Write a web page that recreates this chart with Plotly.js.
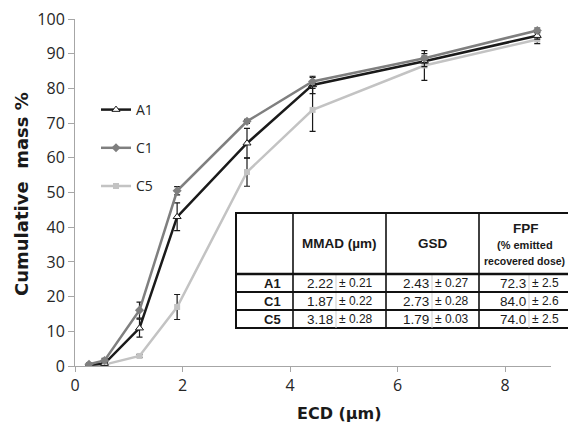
<!DOCTYPE html>
<html>
<head>
<meta charset="utf-8">
<script src="https://cdn.plot.ly/plotly-3.0.1.min.js"></script>
<style>html,body{margin:0;padding:0;background:#fff;}#chart{width:568px;height:428px;}</style>
</head>
<body>
<div id="chart"></div>
<script>
// ---- data ----
const ecd = [0.26, 0.55, 1.2, 1.9, 3.2, 4.42, 6.5, 8.6];
const a1 = [0.3, 0.7, 10.9, 43.0, 64.2, 81.0, 87.8, 95.2];
const a1Err = [0.3, 0.5, 2.6, 4.0, 4.3, 2.5, 1.5, 1.0];
const c1 = [0.5, 1.6, 16.1, 50.5, 70.5, 82.0, 88.7, 96.7];
const c1Err = [0.3, 0.6, 2.3, 1.2, 0.6, 1.2, 1.3, 0.7];
const c5 = [0.2, 0.4, 2.9, 17.0, 55.9, 73.8, 86.6, 94.1];
const c5Err = [0.2, 0.3, 0.4, 3.6, 4.1, 6.2, 4.3, 1.2];

const seriesNames = ["A1", "C1", "C5"];
const tableHeaders = ["MMAD (µm)", "GSD"];
const fpfHeader = ["FPF", "(% emitted", "recovered dose)"];
const mmad = ["2.22", "1.87", "3.18"];
const mmadSd = ["± 0.21", "± 0.22", "± 0.28"];
const gsd = ["2.43", "2.73", "1.79"];
const gsdSd = ["± 0.27", "± 0.28", "± 0.03"];
const fpf = ["72.3", "84.0", "74.0"];
const fpfSd = ["± 2.5", "± 2.6", "± 2.5"];

const xTicks = [0, 2, 4, 6, 8];
const yTicks = [0, 10, 20, 30, 40, 50, 60, 70, 80, 90, 100];

// ---- layout helpers ----
const L = 75, R = 17, T = 19, B = 62, W = 568, H = 428;
const pw = W - L - R, ph = H - T - B;
const px = v => (v - L) / pw;
const py = v => (H - B - v) / ph;

function errBar(arr) {
  return {type: 'data', array: arr, visible: true, color: '#1a1a1a', thickness: 1.2, width: 3};
}

const traces = [
  {x: ecd, y: c5, name: seriesNames[2], type: 'scatter', mode: 'lines+markers',
   line: {color: '#c3c3c3', width: 2.5}, marker: {symbol: 'square', size: 6, color: '#c3c3c3'},
   error_y: errBar(c5Err), legendrank: 3, legendgroup: 'g3'},
  {x: ecd, y: a1, name: seriesNames[0], type: 'scatter', mode: 'lines+markers',
   line: {color: '#1a1a1a', width: 2.5}, marker: {symbol: 'triangle-up', size: 7, color: '#ffffff', line: {color: '#1a1a1a', width: 1}},
   error_y: errBar(a1Err), legendrank: 1, legendgroup: 'g1'},
  {x: ecd, y: c1, name: seriesNames[1], type: 'scatter', mode: 'lines+markers',
   line: {color: '#7f7f7f', width: 2.5}, marker: {symbol: 'diamond', size: 7, color: '#7f7f7f'},
   error_y: errBar(c1Err), legendrank: 2, legendgroup: 'g2'}
];

// table geometry (pixels)
const tLeft = 236, tC1 = 293, tI1 = 336, tC2 = 386, tI2 = 432, tC3 = 479, tI3 = 529, tRight = 590;
const tTop = 213, tHead = 274, rowB = [292, 310, 328];
const rowMid = [283, 301, 319];

const shapes = [];
shapes.push({type: 'rect', xref: 'paper', yref: 'paper', x0: px(tLeft), x1: px(tRight), y0: py(rowB[2]), y1: py(tTop),
  fillcolor: '#ffffff', line: {color: '#111', width: 2}, layer: 'above'});
[tC1, tC2, tC3].forEach(xv => shapes.push({type: 'line', xref: 'paper', yref: 'paper', x0: px(xv), x1: px(xv), y0: py(rowB[2]), y1: py(tTop), line: {color: '#111', width: 1.6}}));
[tI1, tI2, tI3].forEach(xv => shapes.push({type: 'line', xref: 'paper', yref: 'paper', x0: px(xv), x1: px(xv), y0: py(rowB[2]), y1: py(tHead), line: {color: '#cfcfcf', width: 1}}));
shapes.push({type: 'line', xref: 'paper', yref: 'paper', x0: px(tLeft), x1: px(tRight), y0: py(tHead), y1: py(tHead), line: {color: '#111', width: 2.5}});
[rowB[0], rowB[1]].forEach(yv => shapes.push({type: 'line', xref: 'paper', yref: 'paper', x0: px(tLeft), x1: px(tRight), y0: py(yv), y1: py(yv), line: {color: '#111', width: 2}}));

const TF = 'Liberation Sans, Arial, sans-serif';
const ann = [];
function txt(t, x, y, size, bold, xa) {
  ann.push({text: bold ? '<b>' + t + '</b>' : t, xref: 'paper', yref: 'paper', x: px(x), y: py(y),
    xanchor: xa || 'center', yanchor: 'middle', showarrow: false, font: {family: TF, size: size, color: '#1a1a1a'}});
}
txt(tableHeaders[0], (tC1 + tC2) / 2, 243, 13.5, true);
txt(tableHeaders[1], (tC2 + tC3) / 2, 243, 13.5, true);
txt(fpfHeader[0], 526, 228, 13.5, true);
txt(fpfHeader[1], 525, 245, 11, true);
txt(fpfHeader[2], 524, 261, 10.5, true);
for (let i = 0; i < 3; i++) {
  txt(seriesNames[i], 272, rowMid[i], 13, true);
  txt(mmad[i], tI1 - 1, rowMid[i], 13.5, false, 'right');
  txt(mmadSd[i], tI1 + 1, rowMid[i], 12, false, 'left');
  txt(gsd[i], tI2 - 1, rowMid[i], 13.5, false, 'right');
  txt(gsdSd[i], tI2 + 1, rowMid[i], 12, false, 'left');
  txt(fpf[i], tI3 - 1, rowMid[i], 13.5, false, 'right');
  txt(fpfSd[i], tI3 + 1, rowMid[i], 12, false, 'left');
}
// axis titles
ann.push({text: '<b>ECD (µm)</b>', xref: 'paper', yref: 'paper', x: px(339), y: py(413), xanchor: 'center', yanchor: 'middle',
  showarrow: false, font: {family: 'DejaVu Sans', size: 16, color: '#1a1a1a'}});
ann.push({text: '<b>Cumulative  mass %</b>', xref: 'paper', yref: 'paper', x: px(21), y: py(194), xanchor: 'center', yanchor: 'middle',
  textangle: -90, showarrow: false, font: {family: 'DejaVu Sans', size: 18, color: '#1a1a1a'}});

const layout = {
  width: W, height: H,
  margin: {l: L, r: R, t: T, b: B, pad: 0},
  paper_bgcolor: '#ffffff', plot_bgcolor: '#ffffff',
  font: {family: 'Open Sans, sans-serif', color: '#262626'},
  showlegend: true,
  legend: {x: px(96), y: py(94), xanchor: 'left', yanchor: 'top', bgcolor: 'rgba(0,0,0,0)',
    font: {family: 'Open Sans, sans-serif', size: 14, color: '#262626'}, tracegroupgap: 17, itemwidth: 30},
  xaxis: {range: [0, (W - R - L) / 53.75], tickvals: xTicks, ticktext: xTicks.map(String),
    showline: true, linecolor: '#a6a6a6', linewidth: 1, ticks: 'outside', ticklen: 5, tickcolor: '#a6a6a6',
    showgrid: false, zeroline: false, tickfont: {family: 'Open Sans, sans-serif', size: 16, color: '#262626'}},
  yaxis: {range: [0, 100], tickvals: yTicks, ticktext: yTicks.map(String),
    showline: true, linecolor: '#a6a6a6', linewidth: 1, ticks: 'outside', ticklen: 6, tickcolor: '#a6a6a6',
    showgrid: false, zeroline: false, tickfont: {family: 'Open Sans, sans-serif', size: 16, color: '#262626'}},
  shapes: shapes,
  annotations: ann
};

Plotly.newPlot('chart', traces, layout, {displayModeBar: false, staticPlot: true});
</script>
</body>
</html>
